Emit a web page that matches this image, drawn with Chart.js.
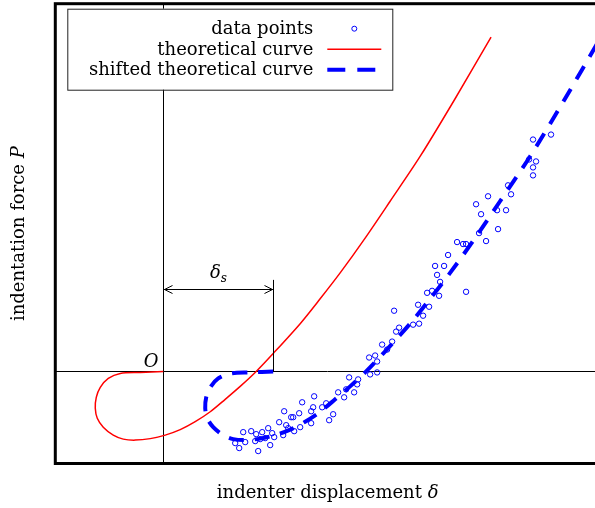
<!DOCTYPE html>
<html>
<head>
<meta charset="utf-8">
<script src="https://cdn.jsdelivr.net/npm/chart.js@4"></script>
<style>
    body { margin: 0; background: #fff; overflow: hidden; }
    #caixa { width: 620px; height: 508px; }
</style>
</head>
<body>
<div id="caixa"><canvas id="grafico" width="620" height="508"></canvas></div>
<script>
// curva teorica (vermelha)
var theoryX = [0, -0.23, -0.43, -0.55, -0.63, -0.67, -0.68, -0.66, -0.60, -0.50, -0.40, -0.28, -0.13, 0.02, 0.17, 0.32, 0.47, 0.62, 0.77, 0.93, 1.10, 1.37, 1.57, 1.77, 2.02, 2.27, 2.57, 2.92, 3.28];
var theoryY = [0, -0.01, -0.02, -0.07, -0.16, -0.26, -0.37, -0.47, -0.56, -0.64, -0.68, -0.69, -0.675, -0.64, -0.585, -0.505, -0.405, -0.28, -0.15, 0, 0.18, 0.48, 0.73, 0.99, 1.34, 1.71, 2.16, 2.74, 3.36];

// curva teorica deslocada (azul tracejada)
var shiftedX = [1.10, 0.87, 0.67, 0.55, 0.47, 0.43, 0.42, 0.44, 0.50, 0.60, 0.70, 0.82, 0.97, 1.12, 1.27, 1.42, 1.57, 1.72, 1.87, 2.03, 2.20, 2.47, 2.67, 2.87, 3.12, 3.37, 3.67, 4.02, 4.38];
var shiftedY = [0, -0.01, -0.02, -0.07, -0.16, -0.26, -0.37, -0.47, -0.56, -0.64, -0.68, -0.69, -0.675, -0.64, -0.585, -0.505, -0.405, -0.28, -0.15, 0, 0.18, 0.48, 0.73, 0.99, 1.34, 1.71, 2.16, 2.74, 3.36];

// pontos medidos
var pointsX = [0.72, 0.76, 0.80, 0.82, 0.88, 0.92, 0.93, 0.95, 0.97, 0.99, 1.02, 1.05, 1.07, 1.09, 1.11, 1.16, 1.20, 1.21, 1.23, 1.25,
    1.28, 1.30, 1.31, 1.36, 1.37, 1.39, 1.48, 1.48, 1.50, 1.51, 1.59, 1.63, 1.66, 1.70, 1.75, 1.81, 1.83, 1.86, 1.91, 1.94,
    1.95, 2.07, 2.14, 2.06, 2.12, 2.14, 2.19, 2.24, 2.29,
    2.33, 2.36, 2.31, 2.50, 2.56, 2.60, 2.55, 2.66, 2.64, 2.69, 2.76, 2.77, 2.74, 2.72, 2.81, 2.85, 3.03, 2.94, 3.00, 3.03,
    3.16, 3.23, 3.13, 3.18, 3.34, 3.43, 3.35,
    3.25, 3.45, 3.48, 3.66, 3.73, 3.70, 3.70, 3.70, 3.88];
var pointsY = [-0.72, -0.77, -0.61, -0.71, -0.60, -0.70, -0.63, -0.80, -0.68, -0.61, -0.67, -0.57, -0.74, -0.62, -0.66, -0.51, -0.64, -0.40, -0.54, -0.57,
    -0.46, -0.46, -0.60, -0.42, -0.56, -0.31, -0.40, -0.52, -0.36, -0.25, -0.36, -0.32, -0.49, -0.43, -0.21, -0.26, -0.18, -0.06, -0.21, -0.13,
    -0.08, -0.03, -0.01, 0.14, 0.16, 0.10, 0.27, 0.22, 0.30,
    0.40, 0.44, 0.61, 0.47, 0.48, 0.56, 0.67, 0.65, 0.79, 0.81, 0.76, 0.90, 0.97, 1.06, 1.06, 1.17, 0.80, 1.30, 1.28, 1.28,
    1.39, 1.31, 1.68, 1.58, 1.62, 1.62, 1.43,
    1.76, 1.87, 1.78, 2.13, 2.11, 2.05, 1.97, 2.33, 2.38];

// marcacao do deslocamento delta_s
var deltaS = 1.10;
var arrowY = 0.83;
var markTop = 0.92;

var fonte = "'DejaVu Serif', serif";

function juntar(xs, ys) {
    var lista = [];
    for (var i = 0; i < xs.length; i++) {
        lista.push({ x: xs[i], y: ys[i] });
    }
    return lista;
}

function soZero(scale) {
    scale.ticks = [{ value: 0 }];
}

// escreve texto normal seguido de um simbolo em italico, centrado em cx
function textoMisto(ctx, normal, italico, cx, cy) {
    ctx.font = '18px ' + fonte;
    var w1 = ctx.measureText(normal).width;
    ctx.font = 'italic 18px ' + fonte;
    var w2 = ctx.measureText(italico).width;
    var ini = cx - (w1 + w2) / 2;
    ctx.textAlign = 'left';
    ctx.textBaseline = 'middle';
    ctx.font = '18px ' + fonte;
    ctx.fillText(normal, ini, cy);
    ctx.font = 'italic 18px ' + fonte;
    ctx.fillText(italico, ini + w1, cy);
}

const extras = {
    id: 'extras',
    afterDraw(chart) {
        const ctx = chart.ctx;
        const sx = chart.scales.x;
        const sy = chart.scales.y;
        const area = chart.chartArea;
        ctx.save();

        // delta_s: linha vertical e seta dupla
        var x0 = Math.round(sx.getPixelForValue(0)) + 0.5;
        var x1 = Math.round(sx.getPixelForValue(deltaS)) + 0.5;
        var ya = Math.round(sy.getPixelForValue(arrowY)) + 0.5;
        var y0 = sy.getPixelForValue(0);
        ctx.strokeStyle = '#000';
        ctx.lineWidth = 1;
        ctx.beginPath();
        ctx.moveTo(x1, y0);
        ctx.lineTo(x1, sy.getPixelForValue(markTop));
        ctx.moveTo(x0, ya);
        ctx.lineTo(x1, ya);
        ctx.moveTo(x0 + 9, ya - 4);
        ctx.lineTo(x0 + 1, ya);
        ctx.lineTo(x0 + 9, ya + 4);
        ctx.moveTo(x1 - 9, ya - 4);
        ctx.lineTo(x1 - 1, ya);
        ctx.lineTo(x1 - 9, ya + 4);
        ctx.stroke();

        // rotulo delta_s
        ctx.fillStyle = '#000';
        ctx.textBaseline = 'alphabetic';
        ctx.font = 'italic 18px ' + fonte;
        var wd = ctx.measureText('δ').width;
        ctx.font = 'italic 12px ' + fonte;
        var ws = ctx.measureText('s').width;
        var cx = (x0 + x1) / 2 - (wd + ws) / 2;
        ctx.font = 'italic 18px ' + fonte;
        ctx.fillText('δ', cx, ya - 12);
        ctx.font = 'italic 12px ' + fonte;
        ctx.fillText('s', cx + wd, ya - 8);

        // origem
        ctx.font = 'italic 18px ' + fonte;
        ctx.textAlign = 'right';
        ctx.fillText('O', x0 - 5, y0 - 4);

        // moldura
        ctx.lineWidth = 3;
        ctx.strokeRect(area.left, area.top, area.right - area.left, area.bottom - area.top);

        // titulos dos eixos
        ctx.fillStyle = '#000';
        textoMisto(ctx, 'indenter displacement ', 'δ', (area.left + area.right) / 2, 493);
        ctx.save();
        ctx.translate(19, (area.top + area.bottom) / 2);
        ctx.rotate(-Math.PI / 2);
        textoMisto(ctx, 'indentation force ', 'P', 0, 0);
        ctx.restore();

        // legenda
        var lx = area.left + 12, ly = area.top + 5;
        ctx.fillStyle = '#fff';
        ctx.fillRect(lx, ly, 325, 81);
        ctx.lineWidth = 1;
        ctx.strokeStyle = '#222';
        ctx.strokeRect(lx + 0.5, ly + 0.5, 325, 81);
        var linhas = [20, 40.5, 61];
        var ds = chart.data.datasets;
        ctx.font = '18px ' + fonte;
        ctx.textAlign = 'right';
        ctx.textBaseline = 'middle';
        for (var i = 0; i < ds.length; i++) {
            var yy = ly + linhas[i];
            ctx.fillStyle = '#000';
            ctx.fillText(ds[i].label, lx + 246, yy + 1);
            if (ds[i].showLine === false) {
                ctx.strokeStyle = ds[i].borderColor;
                ctx.lineWidth = 1;
                ctx.beginPath();
                ctx.arc(lx + 287, yy, 2.5, 0, Math.PI * 2);
                ctx.stroke();
            } else if (ds[i].borderDash) {
                ctx.strokeStyle = ds[i].borderColor;
                ctx.lineWidth = ds[i].borderWidth;
                ctx.setLineDash([18, 12]);
                ctx.beginPath();
                ctx.moveTo(lx + 260, yy);
                ctx.lineTo(lx + 308, yy);
                ctx.stroke();
                ctx.setLineDash([]);
            } else {
                ctx.strokeStyle = ds[i].borderColor;
                ctx.lineWidth = ds[i].borderWidth;
                ctx.beginPath();
                ctx.moveTo(lx + 260, yy);
                ctx.lineTo(lx + 314, yy);
                ctx.stroke();
            }
        }
        ctx.restore();
    }
};

new Chart(document.getElementById('grafico'), {
    type: 'scatter',
    data: {
        datasets: [{
            label: 'data points',
            data: juntar(pointsX, pointsY),
            showLine: false,
            borderColor: '#0000ff',
            backgroundColor: 'rgba(0,0,0,0)',
            borderWidth: 1,
            pointRadius: 2.7,
            pointHoverRadius: 2.7
        }, {
            label: 'theoretical curve',
            data: juntar(theoryX, theoryY),
            showLine: true,
            borderColor: '#ff0000',
            borderWidth: 1.5,
            pointRadius: 0,
            tension: 0.3
        }, {
            label: 'shifted theoretical curve',
            data: juntar(shiftedX, shiftedY),
            showLine: true,
            borderColor: '#0000ff',
            borderWidth: 4,
            borderDash: [15, 11],
            pointRadius: 0,
            tension: 0.3
        }]
    },
    options: {
        responsive: false,
        animation: false,
        devicePixelRatio: 1,
        layout: { padding: { left: 55.3, top: 1.5, right: 20, bottom: 44.5 } },
        plugins: { legend: { display: false }, tooltip: { enabled: false } },
        scales: {
            x: {
                min: -1.08,
                max: 4.37,
                afterBuildTicks: soZero,
                ticks: { display: false },
                border: { display: false },
                grid: { color: '#000', lineWidth: 1, drawTicks: false }
            },
            y: {
                min: -0.925,
                max: 3.695,
                afterBuildTicks: soZero,
                ticks: { display: false },
                border: { display: false },
                grid: { color: '#000', lineWidth: 1, drawTicks: false }
            }
        }
    },
    plugins: [extras]
});
</script>
</body>
</html>
